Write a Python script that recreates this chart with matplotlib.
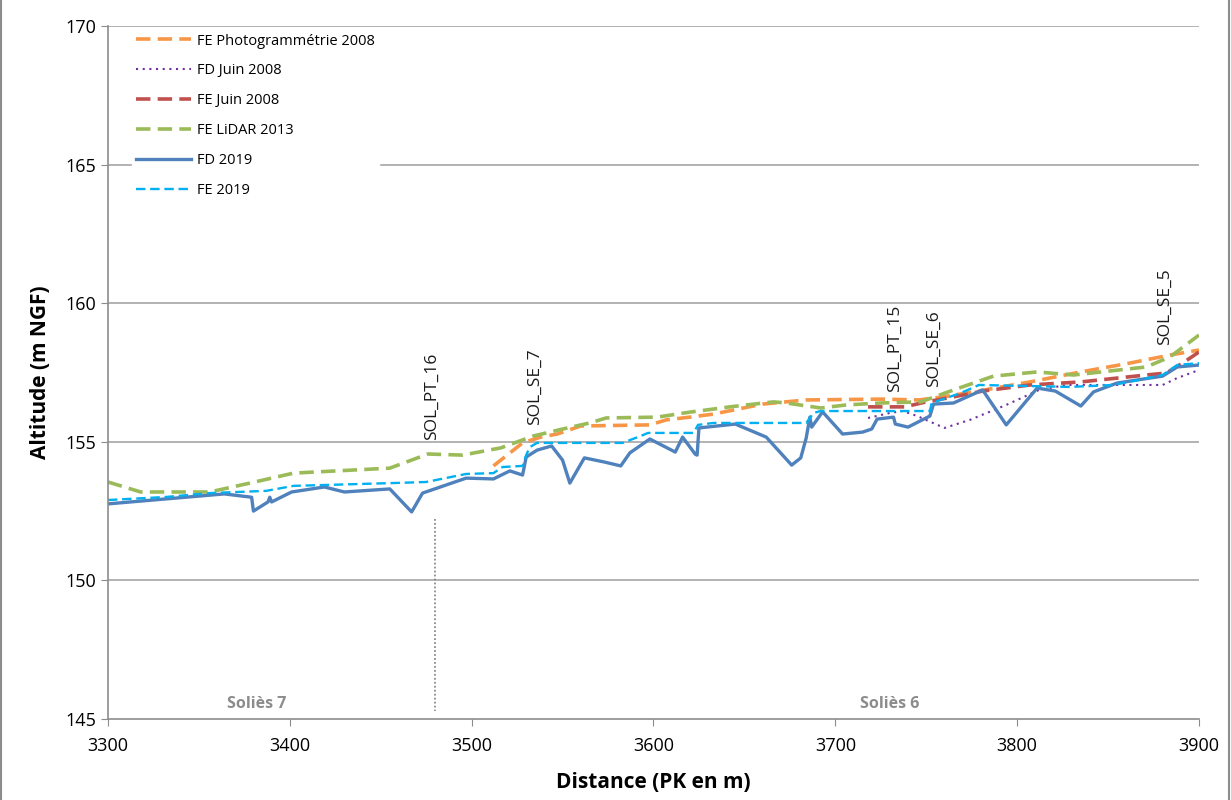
import matplotlib
matplotlib.use("Agg")
import matplotlib.pyplot as plt

# FD 2019 (bottom of the channel, 2019 survey)
fd19_x = [3300, 3364, 3379, 3380, 3388, 3389, 3390, 3401, 3419, 3430, 3455, 3467, 3473,
          3497, 3512, 3521, 3528, 3530, 3536, 3544, 3550, 3554, 3562, 3573, 3582, 3587,
          3598, 3612, 3616, 3623, 3624, 3625, 3645, 3662, 3676, 3681, 3684, 3686, 3687,
          3693, 3704, 3715, 3720, 3723, 3732, 3733, 3740, 3752, 3754, 3765, 3781, 3794,
          3811, 3821, 3835, 3842, 3855, 3880, 3888, 3900]
fd19_y = [152.76, 153.12, 153.0, 152.5, 152.83, 153.0, 152.83, 153.19, 153.37, 153.19,
          153.30, 152.47, 153.15, 153.69, 153.66, 153.95, 153.80, 154.45, 154.70, 154.85,
          154.34, 153.51, 154.42, 154.27, 154.13, 154.60, 155.10, 154.63, 155.17, 154.55,
          154.52, 155.50, 155.64, 155.17, 154.16, 154.42, 155.14, 155.89, 155.53, 156.08,
          155.28, 155.35, 155.46, 155.82, 155.89, 155.64, 155.53, 155.93, 156.36, 156.40,
          156.87, 155.61, 156.94, 156.83, 156.29, 156.80, 157.12, 157.37, 157.70, 157.77]

# FE 2019
fe19_x = [3300, 3332, 3356, 3387, 3402, 3461, 3475, 3497, 3512, 3517, 3528, 3530, 3532,
          3536, 3583, 3593, 3597, 3622, 3624.5, 3633, 3684, 3688, 3692, 3752, 3753, 3769,
          3779, 3829, 3853, 3880, 3888, 3900]
fe19_y = [152.90, 153.01, 153.15, 153.23, 153.41, 153.52, 153.55, 153.84, 153.87, 154.09,
          154.13, 154.52, 154.81, 154.96, 154.96, 155.21, 155.32, 155.32, 155.61, 155.68,
          155.68, 156.04, 156.11, 156.11, 156.40, 156.76, 157.05, 156.98, 157.05, 157.41,
          157.77, 157.84]

# FE LiDAR 2013
lidar_x = [3300, 3318, 3356, 3378, 3402, 3455, 3476, 3495, 3516, 3534, 3550, 3565, 3574,
           3602, 3620, 3642, 3666, 3673, 3692, 3706, 3725, 3747, 3765, 3787, 3811, 3831,
           3871, 3884, 3900]
lidar_y = [153.55, 153.19, 153.19, 153.51, 153.87, 154.05, 154.56, 154.52, 154.78, 155.21,
           155.46, 155.68, 155.86, 155.89, 156.07, 156.26, 156.44, 156.40, 156.22, 156.33,
           156.40, 156.44, 156.87, 157.37, 157.52, 157.41, 157.70, 158.06, 158.85]

# FE Photogrammetrie 2008
photo_x = [3512, 3528, 3538, 3547, 3560, 3598, 3607, 3620, 3633, 3660, 3684, 3725, 3746,
           3759, 3776, 3807, 3835, 3862, 3884, 3900]
photo_y = [154.13, 154.96, 155.17, 155.28, 155.57, 155.61, 155.79, 155.89, 156.0, 156.36,
           156.51, 156.54, 156.51, 156.62, 156.80, 157.16, 157.52, 157.84, 158.13, 158.31]

# FE Juin 2008
fej08_x = [3718, 3738, 3750, 3765, 3781, 3807, 3835, 3871, 3882, 3891, 3900]
fej08_y = [156.26, 156.26, 156.44, 156.62, 156.83, 157.05, 157.16, 157.41, 157.48, 157.84,
           158.24]

# FD Juin 2008
fdj08_x = [3718, 3730, 3737, 3745, 3760, 3774, 3794, 3812, 3827, 3880, 3888, 3900]
fdj08_y = [155.86, 156.04, 156.11, 155.93, 155.50, 155.79, 156.33, 156.87, 157.05, 157.05,
           157.30, 157.59]

# structures (name, PK, altitude of label base)
ouvrages = ["SOL_PT_16", "SOL_SE_7", "SOL_PT_15", "SOL_SE_6", "SOL_SE_5"]
ouvrages_pk = [3478, 3535, 3733, 3754, 3881]
ouvrages_z = [155.06, 155.61, 156.80, 156.98, 158.49]

troncons = ["Soliès 7", "Soliès 6"]
troncons_pk = [3382, 3730]
limite_pk = 3480

plt.rcParams['font.family'] = ['Open Sans', 'DejaVu Sans']

fig = plt.figure(figsize=(12.31, 8), dpi=100)
ax = fig.add_axes([0.0877, 0.10125, 0.8863, 0.86625])

for y in [150, 155, 160, 165, 170]:
    ax.axhline(y, color='#a6a6a6', lw=1.2, zorder=0)

ax.plot(photo_x, photo_y, color='#F79646', lw=2.6, ls=(0, (4, 2)), label='FE Photogrammétrie 2008')
ax.plot(fdj08_x, fdj08_y, color='#7030A0', lw=1.5, ls=(0, (1, 2.2)), label='FD Juin 2008')
ax.plot(fej08_x, fej08_y, color='#C0504D', lw=2.6, ls=(0, (4, 2)), label='FE Juin 2008')
ax.plot(lidar_x, lidar_y, color='#9BBB59', lw=2.6, ls=(0, (4, 2)), label='FE LiDAR 2013')
ax.plot(fd19_x, fd19_y, color='#4F81BD', lw=2.4, label='FD 2019')
ax.plot(fe19_x, fe19_y, color='#00B0F0', lw=1.7, ls=(0, (4, 2)), label='FE 2019')

ax.plot([limite_pk, limite_pk], [152.2, 145.3], color='#8c8c8c', lw=1.3, ls=(0, (1, 1.2)))

for name, pk, z in zip(ouvrages, ouvrages_pk, ouvrages_z):
    ax.text(pk, z, name, rotation=90, ha='center', va='bottom', fontsize=12.5, color='#1a1a1a')

for name, pk in zip(troncons, troncons_pk):
    ax.text(pk, 145.55, name, ha='center', va='center', fontsize=11.5, color='#8c8c8c',
            fontweight='bold')

ax.set_xlim(3300, 3900)
ax.set_ylim(145, 170)
ax.set_xticks(range(3300, 3901, 100))
ax.set_yticks(range(145, 171, 5))
ax.tick_params(labelsize=13, color='#8c8c8c', length=5, direction='out')
ax.tick_params(axis='x', pad=8)
for side in ['top', 'right']:
    ax.spines[side].set_visible(False)
for side in ['left', 'bottom']:
    ax.spines[side].set_color('#8c8c8c')
    ax.spines[side].set_linewidth(1.2)

ax.set_xlabel('Distance (PK en m)', fontsize=15, fontweight='bold', labelpad=12)
ax.set_ylabel('Altitude (m NGF)', fontsize=15, fontweight='bold', labelpad=10)

leg = ax.legend(loc='upper left', bbox_to_anchor=(0.015, 1.006), frameon=True, fontsize=10.5,
                handlelength=3.8, labelspacing=1.02, borderpad=0.3, handletextpad=0.4)
leg.get_frame().set_edgecolor('white')
leg.get_frame().set_facecolor('white')
leg.get_frame().set_alpha(1)

# outer chart border
fig.add_artist(plt.Line2D([0.001, 0.001], [0, 1], color='#8c8c8c', lw=1.5))
fig.add_artist(plt.Line2D([0.998, 0.998], [0, 1], color='#8c8c8c', lw=1.5))

fig.savefig('out.png', dpi=100)
